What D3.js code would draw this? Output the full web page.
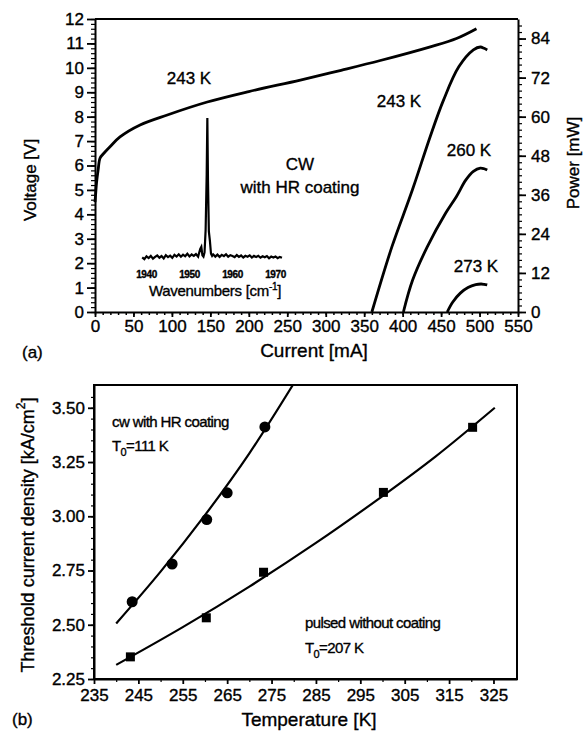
<!DOCTYPE html>
<html><head><meta charset="utf-8">
<script src="https://cdn.jsdelivr.net/npm/d3@7"></script>
<style>
body{margin:0;background:#fff}
text{font-family:'Liberation Sans',Arial,Helvetica,sans-serif;fill:#000;stroke:#000;stroke-width:0.35px}
</style>
</head><body><script>
// ---------- Panel (a) data ----------
const currentTicks = [0,50,100,150,200,250,300,350,400,450,500,550];
const voltageTicks = [0,1,2,3,4,5,6,7,8,9,10,11,12];
const powerTicks = [0,12,24,36,48,60,72,84];

// Voltage vs current, 243 K
const vCurrent = [0,1,2,4,6.5,10,19.5,32.5,58.6,94,146,200,267,320,371,436,470,496];
const vVoltage = [4.5,4.9,5.3,5.8,6.3,6.45,6.77,7.17,7.66,8.07,8.6,9.03,9.5,9.9,10.3,10.86,11.2,11.6];

// Power vs current
const p243Current = [360,386,408,417,436,453,473,492,501,506,510];
const p243Power   = [0,20,34.4,40.5,54,65,75.3,80.5,81.4,81.0,80.5];
const p260Current = [401,413,432,456,470,482,492,501,506,510];
const p260Power   = [0,9.8,20,30.4,35.5,40.5,43.2,44.2,44.0,43.6];
const p273Current = [458,465,475,485,495,502,506,510];
const p273Power   = [0,3,5.8,7.5,8.4,8.6,8.5,8.3];

// Inset spectrum (arbitrary units)
const specTicks = [1940,1950,1960,1970];
const specWave = [1939.0,1939.5,1940.0,1940.5,1941.0,1941.5,1942.0,1942.5,1943.0,1943.5,1944.0,1944.5,1945.0,1945.5,1946.0,1946.5,1947.0,1947.5,1948.0,1948.5,1949.0,1949.5,1950.0,1950.5,1951.0,1951.5,1952.0,1952.5,1952.75,1953.0,1953.25,1953.5,1953.75,1954.0,1954.15,1954.3,1954.5,1954.75,1955.0,1955.25,1955.5,1956.0,1956.5,1957.0,1957.5,1958.0,1958.5,1959.0,1959.5,1960.0,1960.5,1961.0,1961.5,1962.0,1962.5,1963.0,1963.5,1964.0,1964.5,1965.0,1965.5,1966.0,1966.5,1967.0,1967.5,1968.0,1968.5,1969.0,1969.5,1970.0,1970.5,1971.0,1971.5];
const specInt = [0.5,-0.8,1.2,0.0,1.5,-0.5,0.8,1.8,0.2,1.4,-0.3,2.0,0.6,1.7,0.1,2.2,1.0,2.6,0.9,2.4,1.2,3.0,1.1,2.5,1.5,2.8,1.0,6.5,8.0,2.0,1.0,4.0,20.0,60.0,100.0,55.0,19.0,12.0,3.0,1.5,2.6,1.0,2.4,0.8,2.2,1.3,2.7,0.9,2.0,1.4,0.6,2.1,0.8,1.8,0.4,1.6,0.9,1.9,0.3,1.5,0.7,1.6,0.2,1.2,0.5,1.4,-0.2,1.0,0.4,1.1,-0.1,0.8,0.2];

// ---------- Panel (b) data ----------
const tempTicks = [235,245,255,265,275,285,295,305,315,325];
const jTicks = [2.25,2.50,2.75,3.00,3.25,3.50];
const cwTemp = [243.6,252.6,260.4,265.0,273.5];
const cwJ    = [2.606,2.78,2.985,3.108,3.412];
const pulsedTemp = [243.2,260.3,273.2,300.2,320.3];
const pulsedJ    = [2.352,2.532,2.742,3.11,3.41];
const cwFitTemp = [240,250,260,270,279.8];
const cwFitJ    = [2.506,2.745,3.005,3.29,3.605];
const pulsedFitTemp = [240,255,270,285,300,312,325.3];
const pulsedFitJ    = [2.315,2.489,2.676,2.877,3.093,3.276,3.50];

// ---------- drawing ----------
const svg = d3.select("body").append("svg").attr("width",584).attr("height",736);

function styleAxis(g){
  g.select(".domain").attr("stroke","#000").attr("stroke-width",2);
  g.selectAll(".tick line").attr("stroke","#000").attr("stroke-width",1.8);
  g.selectAll(".tick text").attr("font-size",17).attr("font-family","'Liberation Sans',Arial,sans-serif");
}
function styleMinor(g, w){
  g.select(".domain").remove();
  g.selectAll("line").attr("stroke","#000").attr("stroke-width",w||1.2);
}

// ===== Panel (a) =====
const xI = d3.scaleLinear().domain([0,550]).range([95,518]);
const yV = d3.scaleLinear().domain([0,12]).range([312,19]);
const yP = d3.scaleLinear().domain([0,90]).range([312,19]);

svg.append("line").attr("x1",95).attr("x2",518).attr("y1",19).attr("y2",19).attr("stroke","#000").attr("stroke-width",2);

svg.append("g").attr("transform","translate(95,0)")
  .call(d3.axisLeft(yV).tickValues(d3.range(0,12.01,0.2)).tickSize(4).tickFormat(""))
  .call(g=>styleMinor(g));
svg.append("g").attr("transform","translate(518,0)")
  .call(d3.axisRight(yP).tickValues(d3.range(0,89,2)).tickSize(4).tickFormat(""))
  .call(g=>styleMinor(g));
svg.append("g").attr("transform","translate(0,312)")
  .call(d3.axisBottom(xI).tickValues(d3.range(0,551,10)).tickSize(3).tickFormat(""))
  .call(g=>styleMinor(g,1.5));

svg.append("g").attr("transform","translate(95,0)")
  .call(d3.axisLeft(yV).tickValues(voltageTicks).tickSize(8).tickSizeOuter(0).tickPadding(3).tickFormat(d3.format("d")))
  .call(styleAxis);
svg.append("g").attr("transform","translate(518,0)")
  .call(d3.axisRight(yP).tickValues(powerTicks).tickSize(8).tickSizeOuter(0).tickPadding(5).tickFormat(d3.format("d")))
  .call(styleAxis);
svg.append("g").attr("transform","translate(0,312)")
  .call(d3.axisBottom(xI).tickValues(currentTicks).tickSize(5).tickSizeOuter(0).tickPadding(3).tickFormat(d3.format("d")))
  .call(styleAxis);

const lineV = d3.line().x((d,i)=>xI(vCurrent[i])).y((d,i)=>yV(vVoltage[i])).curve(d3.curveCatmullRom);
svg.append("path").datum(vCurrent).attr("d",lineV).attr("fill","none").attr("stroke","#000").attr("stroke-width",2.8);

function powerCurve(cur,pow){
  const l = d3.line().x((d,i)=>xI(cur[i])).y((d,i)=>yP(pow[i])).curve(d3.curveCatmullRom);
  svg.append("path").datum(cur).attr("d",l).attr("fill","none").attr("stroke","#000").attr("stroke-width",2.8);
}
powerCurve(p243Current,p243Power);
powerCurve(p260Current,p260Power);
powerCurve(p273Current,p273Power);

// inset spectrum
const xS = d3.scaleLinear().domain([1940,1970]).range([146.5,275.5]);
const yS = d3.scaleLinear().domain([0,100]).range([258,118]);
const lineS = d3.line().x((d,i)=>xS(specWave[i])).y((d,i)=>yS(specInt[i]));
svg.append("path").datum(specWave).attr("d",lineS).attr("fill","none").attr("stroke","#000").attr("stroke-width",2.2);
svg.append("g").selectAll("text").data(specTicks).join("text")
  .attr("x",d=>xS(d)).attr("y",278).attr("text-anchor","middle")
  .attr("font-size",10).attr("font-weight","bold").attr("letter-spacing",-0.4).text(d=>d);
const wt = svg.append("text").attr("x",215).attr("y",296).attr("text-anchor","middle").attr("font-size",15).attr("letter-spacing",-0.3);
wt.append("tspan").text("Wavenumbers [cm");
wt.append("tspan").attr("dy",-6).attr("font-size",10).text("-1");
wt.append("tspan").attr("dy",6).text("]");

function label(x,y,t,size,anchor){
  return svg.append("text").attr("x",x).attr("y",y).attr("font-size",size||17)
    .attr("text-anchor",anchor||"middle").attr("dominant-baseline","central").text(t);
}
label(189,78,"243 K",17);
label(399,101,"243 K",17);
label(469,150,"260 K",17);
label(476,266,"273 K",17);
label(300,164,"CW",17);
label(300,187,"with HR coating",17);
label(314,350,"Current [mA]",19);
label(22,352,"(a)",17,"start");
svg.append("text").attr("transform","translate(30,180) rotate(-90)").attr("text-anchor","middle")
  .attr("dominant-baseline","central").attr("font-size",17).text("Voltage [V]");
svg.append("text").attr("transform","translate(573,163) rotate(-90)").attr("text-anchor","middle")
  .attr("dominant-baseline","central").attr("font-size",17).text("Power [mW]");

// ===== Panel (b) =====
const xT = d3.scaleLinear().domain([235,330.3]).range([94,517]);
const yJ = d3.scaleLinear().domain([2.25,3.605]).range([679,385]);

svg.append("rect").attr("x",94).attr("y",385).attr("width",423).attr("height",294)
  .attr("fill","none").attr("stroke","#000").attr("stroke-width",2);

svg.append("g").attr("transform","translate(94,0)")
  .call(d3.axisLeft(yJ).tickValues(d3.range(2.25,3.6,0.05)).tickSize(3).tickFormat(""))
  .call(g=>styleMinor(g));
svg.append("g").attr("transform","translate(0,679)")
  .call(d3.axisBottom(xT).tickValues(d3.range(240,330,10)).tickSize(3).tickFormat(""))
  .call(g=>styleMinor(g));

svg.append("g").attr("transform","translate(94,0)")
  .call(d3.axisLeft(yJ).tickValues(jTicks).tickSize(6).tickSizeOuter(0).tickPadding(3).tickFormat(d3.format(".2f")))
  .call(styleAxis);
svg.append("g").attr("transform","translate(0,679)")
  .call(d3.axisBottom(xT).tickValues(tempTicks).tickSize(5).tickSizeOuter(0).tickPadding(5).tickFormat(d3.format("d")))
  .call(styleAxis);

svg.append("clipPath").attr("id","clipb").append("rect").attr("x",94).attr("y",385).attr("width",423).attr("height",294);
const gB = svg.append("g").attr("clip-path","url(#clipb)");
const lineCw = d3.line().x((d,i)=>xT(cwFitTemp[i])).y((d,i)=>yJ(cwFitJ[i])).curve(d3.curveCatmullRom);
gB.append("path").datum(cwFitTemp).attr("d",lineCw).attr("fill","none").attr("stroke","#000").attr("stroke-width",2.2);
const linePu = d3.line().x((d,i)=>xT(pulsedFitTemp[i])).y((d,i)=>yJ(pulsedFitJ[i])).curve(d3.curveCatmullRom);
gB.append("path").datum(pulsedFitTemp).attr("d",linePu).attr("fill","none").attr("stroke","#000").attr("stroke-width",2.2);

svg.append("g").selectAll("circle").data(cwTemp).join("circle")
  .attr("cx",(d,i)=>xT(cwTemp[i])).attr("cy",(d,i)=>yJ(cwJ[i])).attr("r",5.5).attr("fill","#000");
svg.append("g").selectAll("rect").data(pulsedTemp).join("rect")
  .attr("x",(d,i)=>xT(pulsedTemp[i])-4.5).attr("y",(d,i)=>yJ(pulsedJ[i])-4.5)
  .attr("width",9).attr("height",9).attr("fill","#000");

function tLabel(x,y,val){
  const t = svg.append("text").attr("x",x).attr("y",y).attr("font-size",15).attr("letter-spacing",-0.6);
  t.append("tspan").text("T");
  t.append("tspan").attr("dy",5).attr("font-size",11).text("0");
  t.append("tspan").attr("dy",-5).text("="+val+" K");
}
svg.append("text").attr("x",112).attr("y",427).attr("font-size",15).attr("letter-spacing",-0.6).text("cw with HR coating");
tLabel(112,451,"111");
svg.append("text").attr("x",305).attr("y",628).attr("font-size",15).attr("letter-spacing",-0.6).text("pulsed without coating");
tLabel(305,653,"207");

svg.append("text").attr("transform","translate(28,535) rotate(-90)").attr("text-anchor","middle")
  .attr("dominant-baseline","central").attr("font-size",18).call(t=>{
    t.append("tspan").text("Threshold current density [kA/cm");
    t.append("tspan").attr("dy",-7).attr("font-size",12).text("2");
    t.append("tspan").attr("dy",7).text("]");
  });
svg.append("text").attr("x",309).attr("y",719).attr("text-anchor","middle").attr("dominant-baseline","central")
  .attr("font-size",19).text("Temperature [K]");
svg.append("text").attr("x",12).attr("y",719).attr("dominant-baseline","central").attr("font-size",17).text("(b)");
</script></body></html>
